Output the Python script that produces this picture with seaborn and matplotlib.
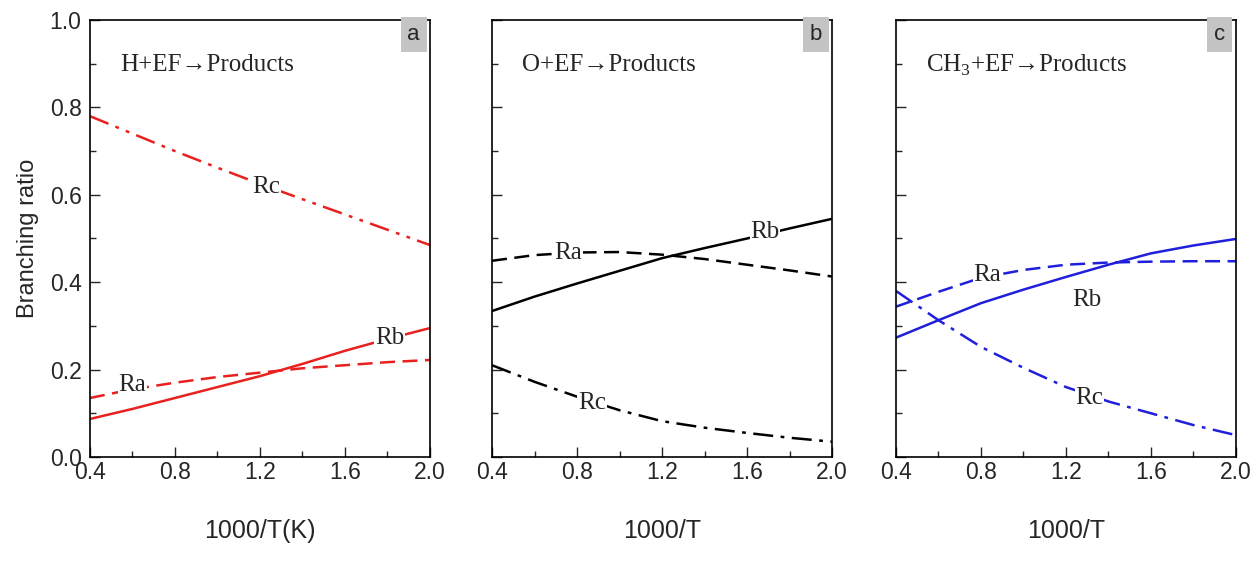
import matplotlib
matplotlib.use("Agg")
import matplotlib.pyplot as plt
from matplotlib.ticker import MultipleLocator
import pandas as pd
import seaborn as sns

# 1000/T grid shared by all panels
x_grid = [0.4, 0.6, 0.8, 1.0, 1.2, 1.4, 1.6, 1.8, 2.0]

# panel a: H + EF
h_ra = [0.135, 0.155, 0.170, 0.183, 0.193, 0.203, 0.210, 0.217, 0.222]
h_rb = [0.087, 0.110, 0.135, 0.160, 0.185, 0.213, 0.243, 0.270, 0.295]
h_rc = [0.780, 0.740, 0.700, 0.662, 0.625, 0.590, 0.555, 0.520, 0.485]

# panel b: O + EF
o_ra = [0.449, 0.462, 0.468, 0.469, 0.463, 0.453, 0.440, 0.427, 0.413]
o_rb = [0.334, 0.367, 0.397, 0.426, 0.455, 0.478, 0.500, 0.523, 0.545]
o_rc = [0.210, 0.172, 0.138, 0.107, 0.082, 0.067, 0.055, 0.044, 0.035]

# panel c: CH3 + EF
c_ra = [0.344, 0.378, 0.410, 0.428, 0.440, 0.445, 0.447, 0.448, 0.448]
c_rb = [0.273, 0.313, 0.352, 0.383, 0.412, 0.440, 0.466, 0.484, 0.499]
c_rc = [0.380, 0.313, 0.252, 0.204, 0.160, 0.127, 0.100, 0.073, 0.050]

panels = [
    ("a", "H+EF\u2192Products", "#e8211f", (h_ra, h_rb, h_rc), "1000/T(K)",
     [(0.60, 0.165), (1.81, 0.272), (1.23, 0.618)]),
    ("b", "O+EF\u2192Products", "black", (o_ra, o_rb, o_rc), "1000/T",
     [(0.76, 0.467), (1.685, 0.515), (0.87, 0.124)]),
    ("c", "CH$_3$+EF\u2192Products", "#1f1fdc", (c_ra, c_rb, c_rc), "1000/T",
     [(0.83, 0.416), (1.30, 0.360), (1.31, 0.135)]),
]
names = ["Ra", "Rb", "Rc"]
rc_styles = {"a": (0, (8, 3, 1.5, 3, 1.5, 3)), "b": (0, (8, 3, 1.5, 3)), "c": (0, (8, 3, 1.5, 3))}
serif = ["Liberation Serif", "DejaVu Serif"]

sns.set_theme(style="ticks")
plt.rcParams["font.family"] = ["Liberation Sans", "DejaVu Sans"]
plt.rcParams["mathtext.fontset"] = "custom"
plt.rcParams["mathtext.rm"] = "Liberation Serif"

fig = plt.figure(figsize=(12.51, 5.8), dpi=100)
lefts = [0.0719, 0.3933, 0.7162]

for left, (tag, title, color, series, xlabel, label_pos) in zip(lefts, panels):
    ax = fig.add_axes([left, 0.2121, 0.2718, 0.7534])
    styles = [(0, (6, 3)), "-", rc_styles[tag]]
    for name, vals, ls, pos in zip(names, series, styles, label_pos):
        df = pd.DataFrame({"x": x_grid, "y": vals})
        sns.lineplot(data=df, x="x", y="y", ax=ax, color=color, linewidth=1.8, linestyle=ls)
        ax.text(pos[0], pos[1], name, ha="center", va="center", fontsize=18,
                family=serif, zorder=5,
                bbox=dict(facecolor="white", edgecolor="none", pad=0.5))

    ax.set_xlim(0.4, 2.0)
    ax.set_ylim(0.0, 1.0)
    ax.xaxis.set_major_locator(MultipleLocator(0.4))
    ax.xaxis.set_minor_locator(MultipleLocator(0.2))
    ax.yaxis.set_major_locator(MultipleLocator(0.2))
    ax.yaxis.set_minor_locator(MultipleLocator(0.1))
    ax.tick_params(which="both", direction="in", top=False, right=False, width=1.0)
    ax.tick_params(which="major", length=7, labelsize=16.5)
    ax.tick_params(axis="x", which="major", pad=3)
    ax.tick_params(axis="y", which="major", pad=6)
    ax.tick_params(which="minor", length=4)
    for sp in ax.spines.values():
        sp.set_linewidth(1.2)
        sp.set_color("black")
    ax.set_xlabel(xlabel, fontsize=18, labelpad=25)
    if tag == "a":
        ax.set_ylabel("Branching ratio", fontsize=17, labelpad=8)
        ax.set_yticklabels([f"{v:.1f}" for v in ax.get_yticks()])
    else:
        ax.set_ylabel("")
        ax.tick_params(axis="y", labelleft=False)

    ax.text(0.088, 0.897, title, transform=ax.transAxes, ha="left", va="center",
            fontsize=18, family=serif)
    ax.text(0.952, 0.967, tag, transform=ax.transAxes, ha="center", va="center", fontsize=16,
            bbox=dict(facecolor="#c4c4c4", edgecolor="none", boxstyle="square,pad=0.3"))

fig.savefig("out.png", dpi=100)
